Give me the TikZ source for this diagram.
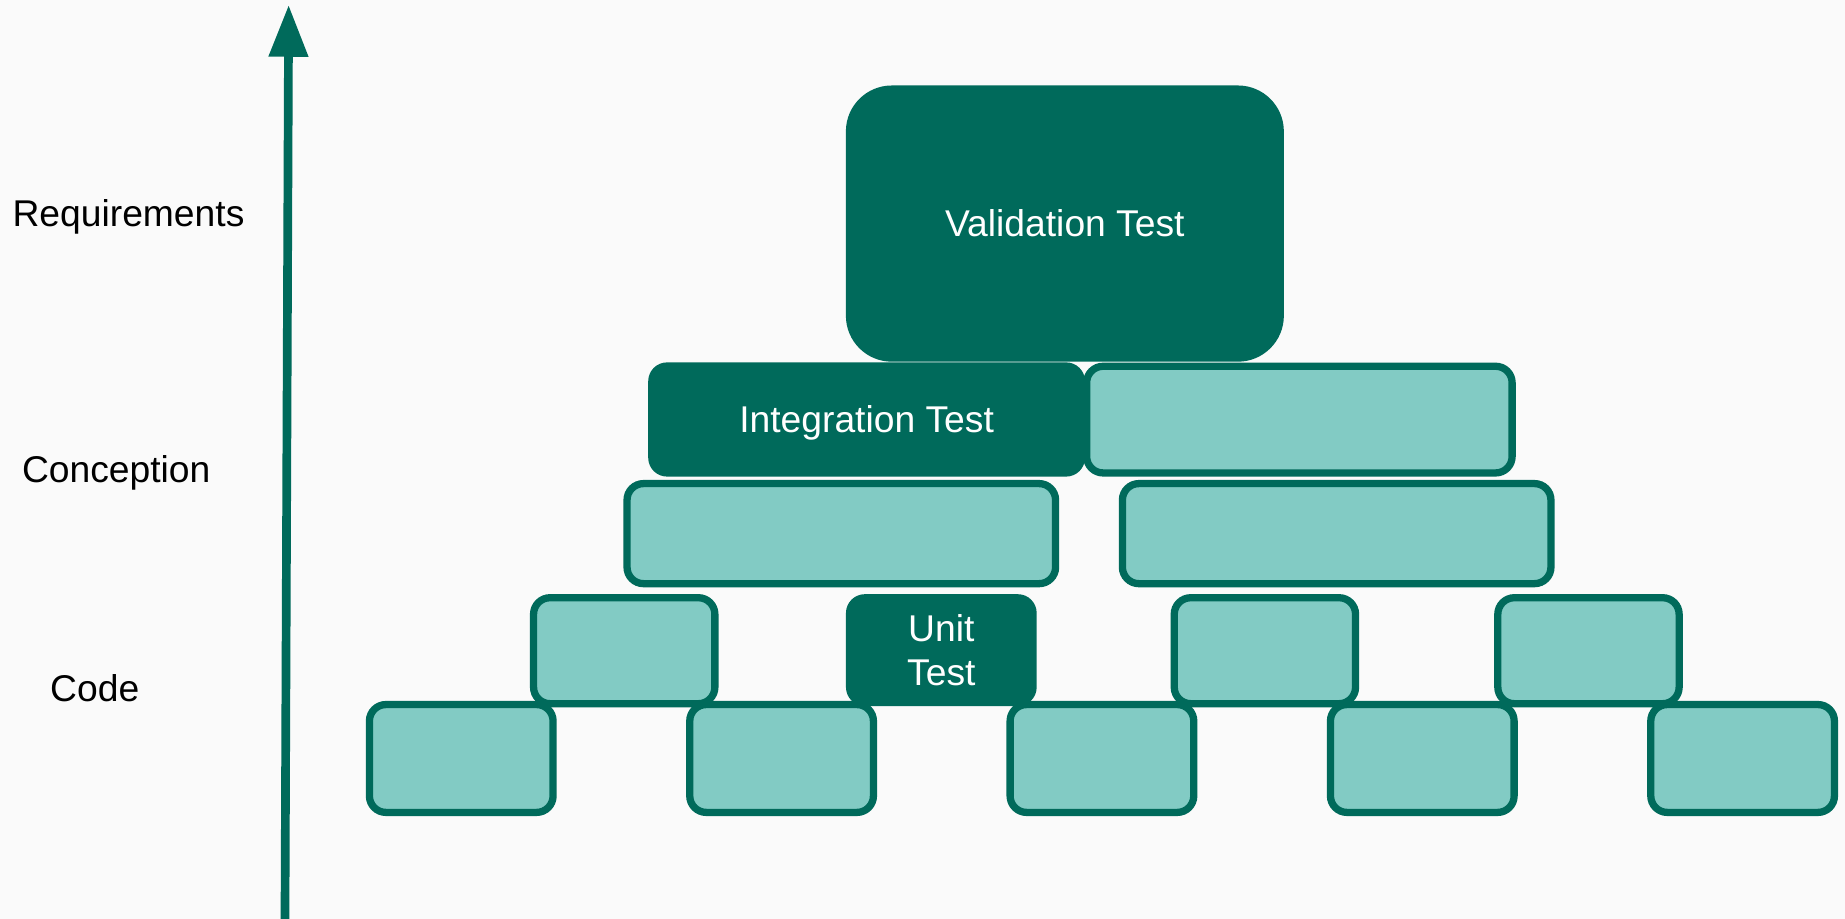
\documentclass[tikz,border=0pt]{standalone}
\usepackage{fontspec}
\setmainfont{Liberation Sans}
\usepackage{tikz}
\usetikzlibrary{arrows.meta}
\definecolor{tealdark}{RGB}{0,106,91}
\definecolor{teallight}{RGB}{130,203,196}
\definecolor{paper}{RGB}{250,250,250}

\begin{document}
\begin{tikzpicture}[x=0.01cm, y=-0.01cm,
	brick/.style={draw=tealdark, fill=teallight, line width=1.76pt, rounded corners=0.14cm, inner sep=0pt},
	testbox/.style={fill=tealdark, text=white, rounded corners=0.16cm, inner sep=0pt, align=center, font=\fontsize{9}{10.5}\selectfont},
	level/.style={anchor=west, inner sep=0pt, font=\fontsize{9}{10.5}\selectfont},
	axis/.style={draw=tealdark, line width=2.1pt, -{Triangle[width=0.32cm,length=0.44cm]}}]
	\fill[paper] (0,0) rectangle (1568,781);
	\useasboundingbox (0,0) rectangle (1568,781);
	% bottom row
	\foreach \i in {1,...,5}
		\node[brick, minimum width=1.56cm, minimum height=0.916cm] (b5\i) at ({392+272.25*(\i-1)}, 644.6) {};
	% code level
	\node[brick, minimum width=1.54cm, minimum height=0.90cm] (b41) at (530.5, 553) {};
	\node[testbox, minimum width=1.62cm, minimum height=0.95cm] (unit) at (800, 552.5) {Unit\\Test};
	\node[brick, minimum width=1.54cm, minimum height=0.90cm] (b42) at (1075, 553) {};
	\node[brick, minimum width=1.54cm, minimum height=0.90cm] (b43) at (1350, 553) {};
	% conception level
	\node[brick, minimum width=3.64cm, minimum height=0.85cm] (b31) at (715, 453.5) {};
	\node[brick, minimum width=3.64cm, minimum height=0.85cm] (b32) at (1136, 453.5) {};
	\node[testbox, minimum width=3.71cm, minimum height=0.97cm, text depth=0pt] (integration) at (736.5, 356.5) {Integration Test};
	\node[brick, minimum width=3.614cm, minimum height=0.906cm] (b21) at (1104.3, 356.6) {};
	% requirements level
	\node[testbox, rounded corners=0.39cm, minimum width=3.72cm, minimum height=2.346cm] (validation) at (905, 190) {Validation Test};
	% levels axis
	\coordinate (axisbottom) at (242.2, 781);
	\coordinate (axistop) at (245.3, 4.2);
	\draw[axis] (axisbottom) -- (axistop);
	\node[level] (requirements) at (10, 184) {Requirements};
	\node[level] (conception) at (18, 402) {Conception};
	\node[level] (code) at (42, 585) {Code};
\end{tikzpicture}
\end{document}
